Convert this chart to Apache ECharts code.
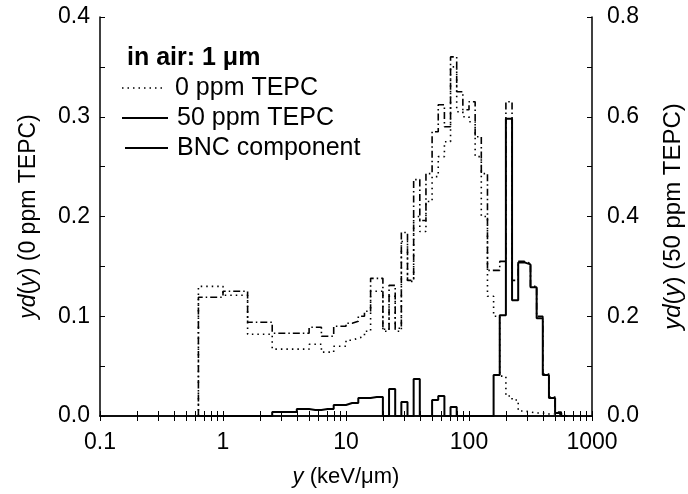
<!DOCTYPE html>
<html><head><meta charset="utf-8">
<script src="https://cdn.jsdelivr.net/npm/echarts@6/dist/echarts.min.js"></script>
<style>html,body{margin:0;padding:0;background:#fff}#c{width:688px;height:494px}</style>
</head><body><div id="c"></div>
<script>
// bin edges (keV/um), 20 per decade
const binEdges = [0.631,0.708,0.794,0.891,1.0,1.122,1.259,1.413,1.585,1.778,1.995,2.239,2.512,2.818,3.162,3.548,3.981,4.467,5.012,5.623,6.310,7.079,7.943,8.913,10.0,11.22,12.59,14.13,15.85,17.78,19.95,22.39,25.12,28.18,31.62,35.48,39.81,44.67,50.12,56.23,63.10,70.79,79.43,89.13,100.0,112.2,125.9,141.3,158.5,177.8,199.5,223.9,251.2,281.8,316.2,354.8,398.1,446.7,501.2,562.3,631.0];
// 0 ppm TEPC, left axis
const ppm0Values = [0.130,0.130,0.130,0.130, 0.121,0.121,0.121,0.121, 0.082,0.082,0.082,0.082,
  0.067,0.067,0.067,0.067,0.067,0.067, 0.072,0.072, 0.064,0.064, 0.070,0.070,
  0.076,0.078, 0.080,0.085, 0.125,0.125, 0.085,0.120, 0.085,0.175, 0.135,0.200, 0.185,0.215,
  0.240,0.260, 0.275,0.350, 0.305,0.300, 0.295,0.260, 0.200,0.120, 0.100,0.040, 0.020,0.016,
  0.005,0.004,0.003,0.003,0.002,0.002,0.001,0];
// 50 ppm TEPC, right axis
const ppm50Values = [0.238,0.238,0.238,0.238, 0.250,0.250,0.250,0.250, 0.188,0.188,0.188,0.188,
  0.166,0.166,0.166,0.166,0.166,0.166, 0.178,0.178, 0.160,0.160, 0.180,0.180,
  0.186,0.190, 0.200,0.210, 0.276,0.276, 0.174,0.262, 0.176,0.368, 0.272,0.474, 0.392,0.486,
  0.570,0.624, 0.580,0.720, 0.650,0.614, 0.630,0.560, 0.486,0.292, 0.292,0.310, 0.630,0.272,
  0.310,0.306, 0.260,0.200, 0.084,0.038, 0.008,0];
// BNC component, right axis
const bncValues = [0,0,0,0, 0,0,0,0, 0,0,0,0,
  0.008,0.008,0.008,0.008,0.014,0.014, 0.012,0.012, 0.014,0.014, 0.022,0.022,
  0.026,0.026, 0.036,0.036, 0.038,0.038, 0,0.054, 0,0.028, 0,0.074, 0,0,
  0.032,0.040, 0,0.018, 0,0, 0,0, 0,0, 0.082,0.202, 0.596,0.232,
  0.308,0.304, 0.258,0.196, 0.082,0.036, 0.006,0];
const xLabels = [0.1,1,10,100,1000];
const xMinorTicks = [0.1,0.2,0.3,0.4,0.5,0.6,0.7,0.8,0.9,1,2,3,4,5,6,7,8,9,10,20,30,40,50,60,70,80,90,100,200,300,400,500,600,700,800,900,1000];
const leftTicks = [0,0.05,0.1,0.15,0.2,0.25,0.3,0.35,0.4];
const rightTicks = [0,0.1,0.2,0.3,0.4,0.5,0.6,0.7,0.8];

function steps(edges, vals){
  const pts = [[edges[0],0]];
  for(let i=0;i<vals.length;i++){ pts.push([edges[i],vals[i]]); pts.push([edges[i+1],vals[i]]); }
  pts.push([edges[vals.length],0]);
  return pts;
}
const FONT = 'Liberation Sans, Arial, Helvetica, sans-serif';
const chart = echarts.init(document.getElementById('c'), null, {renderer:'canvas'});
const axLine = {show:true, lineStyle:{color:'#000', width:1.5}};
const nameStyle = fs => ({color:'#000', fontSize:fs, fontFamily:FONT, rich:{i:{fontStyle:'italic', fontSize:fs, fontFamily:FONT, color:'#000'}}});
const option = {
  animation:false,
  backgroundColor:'#fff',
  grid:{left:100, right:96, top:17, bottom:78, containLabel:false, outerBoundsMode:'none'},
  xAxis:[{
    type:'log', logBase:10, min:0.1, max:1000, position:'bottom',
    axisLine:axLine, splitLine:{show:false},
    axisTick:{show:true, inside:true, length:5, customValues:xMinorTicks, lineStyle:{color:'#000',width:1}},
    axisLabel:{show:true, customValues:xLabels, margin:15, color:'#000', fontSize:23, fontFamily:FONT,
      formatter:v=>String(+(+v).toPrecision(3))},
    name:'{i|y} (keV/\u03bcm)', nameLocation:'middle', nameGap:50, nameTextStyle:nameStyle(22)
  },{
    type:'log', logBase:10, min:0.1, max:1000, position:'top',
    axisLine:axLine, splitLine:{show:false},
    axisTick:{show:true, inside:true, length:5, customValues:xMinorTicks, lineStyle:{color:'#000',width:1}},
    axisLabel:{show:false}
  }],
  yAxis:[{
    type:'value', min:0, max:0.4, interval:0.1, position:'left',
    axisLine:axLine, splitLine:{show:false},
    axisTick:{show:true, inside:true, length:5, customValues:leftTicks, lineStyle:{color:'#000',width:1}},
    axisLabel:{color:'#000', fontSize:23, fontFamily:FONT, margin:10, formatter:v=>v.toFixed(1)},
    name:'{i|yd}({i|y}) (0 ppm TEPC)', nameLocation:'middle', nameGap:60, nameRotate:90, nameTextStyle:nameStyle(23)
  },{
    type:'value', min:0, max:0.8, interval:0.2, position:'right',
    axisLine:axLine, splitLine:{show:false},
    axisTick:{show:true, inside:true, length:5, customValues:rightTicks, lineStyle:{color:'#000',width:1}},
    axisLabel:{color:'#000', fontSize:23, fontFamily:FONT, margin:15, formatter:v=>v.toFixed(1)},
    name:'{i|yd}({i|y}) (50 ppm TEPC)', nameLocation:'middle', nameGap:69, nameRotate:90, nameTextStyle:nameStyle(24)
  }],
  series:[
    {name:'0 ppm TEPC', type:'line', xAxisIndex:0, yAxisIndex:0, showSymbol:false, data:steps(binEdges, ppm0Values),
      lineStyle:{color:'#000', width:1.6, type:[1.5,4]}, z:3},
    {name:'50 ppm TEPC', type:'line', xAxisIndex:0, yAxisIndex:1, showSymbol:false, data:steps(binEdges, ppm50Values),
      lineStyle:{color:'#000', width:1.6, type:[7,3,1.5,3]}, z:4},
    {name:'BNC component', type:'line', xAxisIndex:0, yAxisIndex:1, showSymbol:false, data:steps(binEdges, bncValues),
      lineStyle:{color:'#000', width:2}, z:5}
  ],
  graphic:[
    {type:'text', left:127, top:46, style:{text:'in air: 1 \u03bcm', font:'bold 25px '+FONT, fill:'#000'}},
    {type:'line', shape:{x1:122,y1:88,x2:165,y2:88}, style:{stroke:'#000', lineWidth:1.6, lineDash:[1.5,4]}},
    {type:'text', left:175, top:76, style:{text:'0 ppm TEPC', font:'25px '+FONT, fill:'#000'}},
    {type:'line', shape:{x1:122,y1:118,x2:168,y2:118}, style:{stroke:'#000', lineWidth:2}},
    {type:'text', left:177, top:106, style:{text:'50 ppm TEPC', font:'25px '+FONT, fill:'#000'}},
    {type:'line', shape:{x1:125,y1:148,x2:168,y2:148}, style:{stroke:'#000', lineWidth:2}},
    {type:'text', left:177, top:136, style:{text:'BNC component', font:'25px '+FONT, fill:'#000'}}
  ]
};
chart.setOption(option);
</script></body></html>
